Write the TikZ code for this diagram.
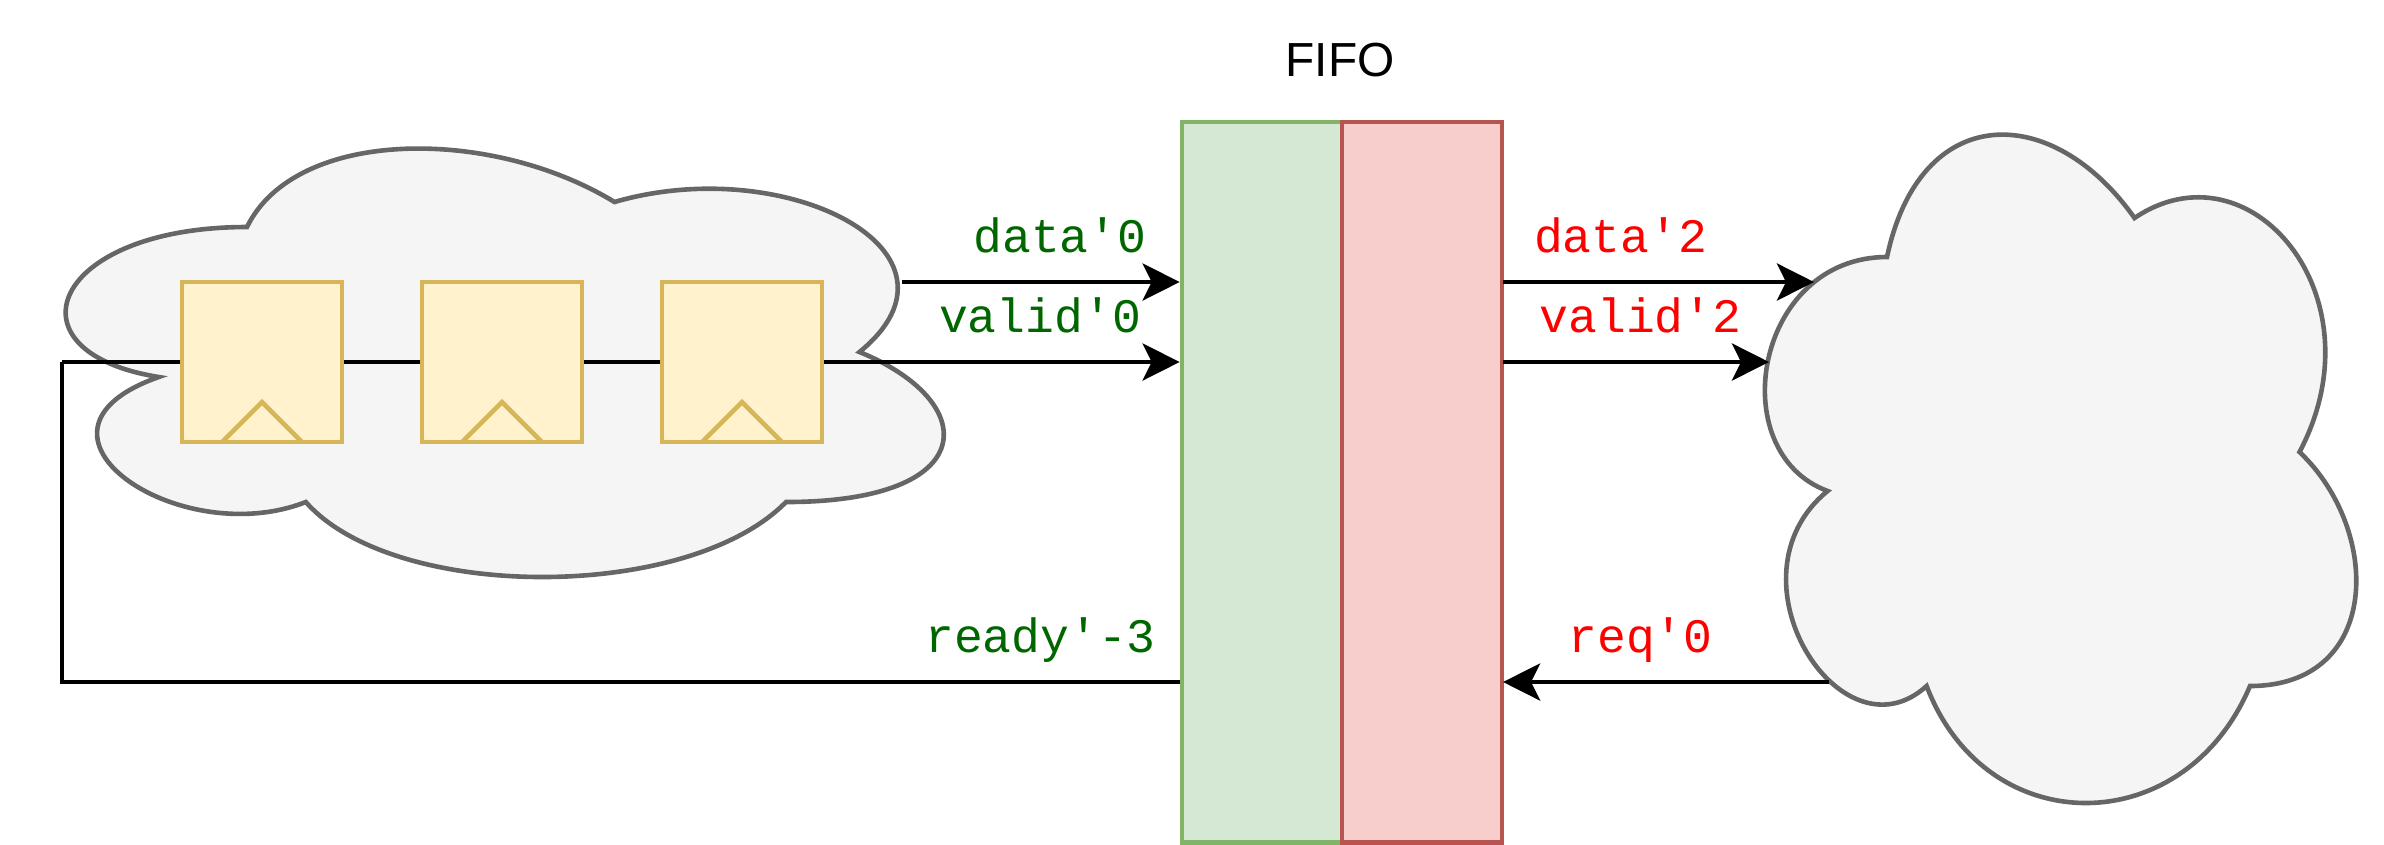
\documentclass[tikz,border=0pt]{standalone}
\usepackage{fontspec}
\setmainfont{Liberation Sans}
\setmonofont{Liberation Mono}
\usetikzlibrary{arrows.meta}

\definecolor{cloudfill}{HTML}{F5F5F5}
\definecolor{cloudline}{HTML}{666666}
\definecolor{regfill}{HTML}{FFF2CC}
\definecolor{regline}{HTML}{D6B656}
\definecolor{inFill}{HTML}{D5E8D4}
\definecolor{inLine}{HTML}{82B366}
\definecolor{outFill}{HTML}{F8CECC}
\definecolor{outLine}{HTML}{B85450}
\definecolor{inText}{HTML}{006600}
\definecolor{outText}{HTML}{FF0000}

\tikzset{
    cloudshape/.style={draw=cloudline, fill=cloudfill, line width=0.46mm},
    reg/.style={draw=regline, fill=regfill, line width=0.46mm, minimum size=1.6cm, inner sep=0pt},
    clockmark/.style={draw=regline, line width=0.46mm},
    fifoin/.style={draw=inLine, fill=inFill, line width=0.46mm, minimum width=1.6cm, minimum height=7.2cm, inner sep=0pt},
    fifoout/.style={draw=outLine, fill=outFill, line width=0.46mm, minimum width=1.6cm, minimum height=7.2cm, inner sep=0pt, outer sep=0.1mm},
    wire/.style={line width=0.46mm},
    flow/.style={wire, -{Stealth[length=3.7mm, width=3.7mm, inset=0.9mm]}},
    sigin/.style={anchor=base, inner sep=0pt, text=inText, font=\ttfamily\fontsize{13.66}{16}\selectfont},
    sigout/.style={anchor=base, inner sep=0pt, text=outText, font=\ttfamily\fontsize{13.66}{16}\selectfont},
}

% Cloud outline in a box: left, top, width, height
\newcommand{\drawcloud}[4]{%
    \begin{scope}[shift={(#1,#2)}, x=#3*0.01cm, y=-#4*0.01cm]
        \draw[cloudshape] (0.25,0.25)
            .. controls (0.05,0.25) and (0,0.5) .. (0.16,0.55)
            .. controls (0,0.66) and (0.18,0.9) .. (0.31,0.8)
            .. controls (0.4,1) and (0.7,1) .. (0.8,0.8)
            .. controls (1,0.8) and (1,0.6) .. (0.875,0.5)
            .. controls (1,0.3) and (0.8,0.1) .. (0.625,0.2)
            .. controls (0.5,0.05) and (0.3,0.05) .. (0.25,0.25) -- cycle;
    \end{scope}%
}

\begin{document}
\begin{tikzpicture}[x=0.01cm, y=-0.01cm]
    \useasboundingbox (0,0) rectangle (2384,844);

    % Clouds
    \drawcloud{2}{102}{980}{500}
    \drawcloud{1722}{62}{660}{780}

    % FIFO
    \node[fifoin] (fifoGreen) at (1262,482) {};
    \node[fifoout] (fifoRed) at (1422,482) {};
    \node[anchor=base, inner sep=0pt, font=\fontsize{13.6}{16}\selectfont] (fifoLabel) at (1340,76) {FIFO};

    % Free ends of the wires
    \coordinate (dataStart) at (902,282);
    \coordinate (dataEnd) at (1814,282);
    \coordinate (validEnd) at (1769,362);
    \coordinate (reqStart) at (1829,682);
    \coordinate (loopCorner) at (62,682);
    \coordinate (loopTop) at (62,362);
    \coordinate (inData) at (fifoGreen.west |- dataStart);
    \coordinate (inValid) at (fifoGreen.west |- loopTop);
    \coordinate (inReady) at (fifoGreen.west |- loopCorner);
    \coordinate (outData) at (fifoRed.east |- dataStart);
    \coordinate (outValid) at (fifoRed.east |- loopTop);
    \coordinate (outReq) at (fifoRed.east |- loopCorner);

    % Wires
    \draw[flow] (dataStart) -- (inData);
    \draw[flow] (loopTop) -- (inValid);
    \draw[wire, line join=miter] (inReady) -- (loopCorner) -- (loopTop);
    \draw[flow] (outData) -- (dataEnd);
    \draw[flow] (outValid) -- (validEnd);
    \draw[flow] (reqStart) -- (outReq);

    % Registers
    \foreach \name/\cx in {regA/262, regB/502, regC/742} {
        \node[reg] (\name) at (\cx,362) {};
        \draw[clockmark] (\cx-40,442) -- (\cx,402) -- (\cx+40,442);
    }

    % Signal names
    \node[sigin] (dataIn) at (1060,252) {data'0};
    \node[sigin] (validIn) at (1040,332) {valid'0};
    \node[sigin] (readyIn) at (1040.5,652) {ready'-3};
    \node[sigout] (dataOut) at (1620.5,252) {data'2};
    \node[sigout] (validOut) at (1640.5,332) {valid'2};
    \node[sigout] (reqOut) at (1640.5,652) {req'0};
\end{tikzpicture}
\end{document}
